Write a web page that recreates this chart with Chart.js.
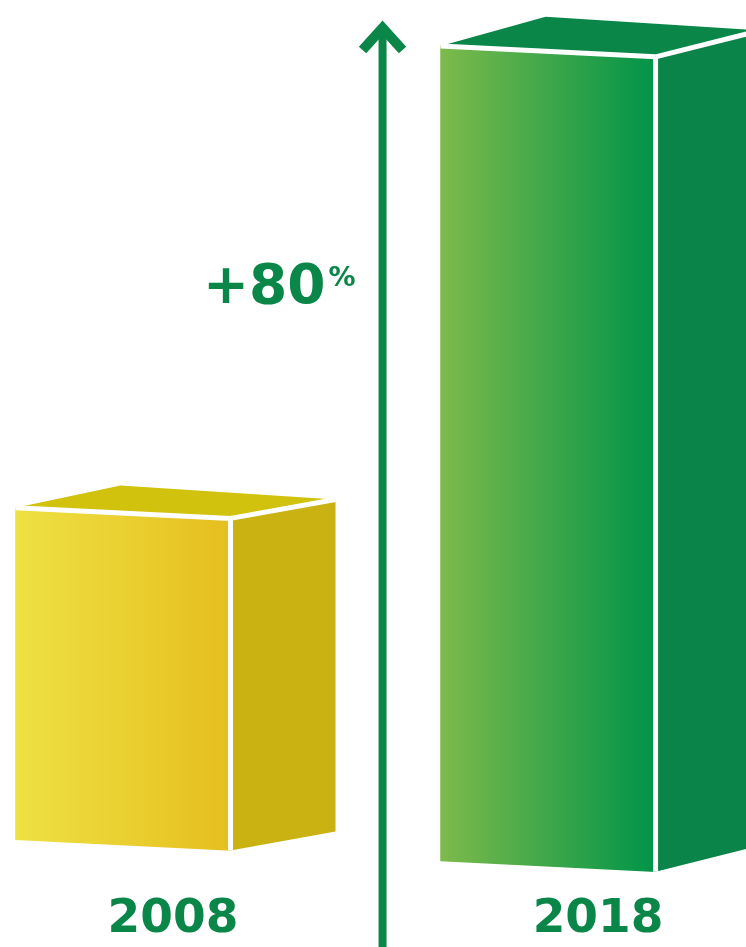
<!DOCTYPE html>
<html>
<head>
<meta charset="utf-8">
<title>2008 - 2018</title>
<script src="https://cdn.jsdelivr.net/npm/chart.js@4.4.1/dist/chart.umd.min.js"></script>
<style>
  html, body { margin: 0; padding: 0; background: #fff; }
  #wrap { width: 746px; height: 947px; }
</style>
</head>
<body>
<div id="wrap"><canvas id="myChart" width="746" height="947"></canvas></div>
<script>
// data (index, 2008 = 100)
const years = ['2008', '2018'];
const values = [100, 180];

// axis range (the picture uses a cut value axis)
const yMin = 45;
const yMax = 185;
const xMin = -0.407;
const xMax = 1.348;

// look
const green = '#0a8649';
const frontColors = [['#eee143', '#e6be1f'], ['#7dba4b', '#009449']];
const topColors = ['#d1c20e', '#0a8649'];
const sideColors = ['#c9b212', '#0a8449'];
const depthTilt = [0.18, 0.25];
const shift = 50;     // front face sits left of the label centre
const skew = 0.05;    // the floor leans down to the right
const depth = 105;

function frontX0(chart) {
  return chart.scales.x.getPixelForValue(0) - shift;
}

function toScreen(chart, x, y) {
  const sx = x - shift;
  return [sx, y + skew * (sx - frontX0(chart))];
}

function poly(ctx, pts, fill) {
  ctx.beginPath();
  ctx.moveTo(pts[0][0], pts[0][1]);
  for (let i = 1; i < pts.length; i++) ctx.lineTo(pts[i][0], pts[i][1]);
  ctx.closePath();
  ctx.fillStyle = fill;
  ctx.fill();
}

function edge(ctx, a, b) {
  ctx.beginPath();
  ctx.moveTo(a[0], a[1]);
  ctx.lineTo(b[0], b[1]);
  ctx.stroke();
}

const boxPlugin = {
  id: 'box3d',
  beforeDatasetsDraw(chart) {
    const ctx = chart.ctx;
    ctx.save();
    ctx.transform(1, skew, 0, 1, -shift, -skew * (shift + frontX0(chart)));
  },
  afterDatasetsDraw(chart) {
    const ctx = chart.ctx;
    ctx.restore();

    const bars = chart.getDatasetMeta(0).data;
    ctx.save();
    ctx.strokeStyle = '#ffffff';
    ctx.lineWidth = 5;
    ctx.lineCap = 'butt';
    bars.forEach((bar, i) => {
      const p = bar.getProps(['x', 'y', 'base', 'width'], true);
      const l = p.x - p.width / 2, r = p.x + p.width / 2;
      const flt = toScreen(chart, l, p.y);
      const frt = toScreen(chart, r, p.y);
      const frb = toScreen(chart, r, p.base);
      const dyR = -depthTilt[i] * depth;
      const dyL = -(depthTilt[i] + 0.03) * depth;
      const brt = [frt[0] + depth, frt[1] + dyR];
      const blt = [flt[0] + depth, flt[1] + dyL];
      const brb = [frb[0] + depth, frb[1] + dyR];
      poly(ctx, [frt, brt, brb, frb], sideColors[i]);
      poly(ctx, [flt, frt, brt, blt], topColors[i]);
      // white seams between the faces
      edge(ctx, flt, frt);
      edge(ctx, frt, frb);
      edge(ctx, frt, brt);
    });
    ctx.restore();

    // arrow
    const ax = chart.scales.x.getPixelForValue(0.5) - 3;
    ctx.save();
    ctx.fillStyle = green;
    ctx.fillRect(ax - 4, 35, 8, chart.height - 35);
    ctx.strokeStyle = green;
    ctx.lineWidth = 10;
    ctx.lineJoin = 'miter';
    ctx.lineCap = 'butt';
    ctx.beginPath();
    ctx.moveTo(ax - 20, 50);
    ctx.lineTo(ax, 28);
    ctx.lineTo(ax + 20, 50);
    ctx.stroke();

    const pct = Math.round((values[1] - values[0]) / values[0] * 100);
    ctx.textBaseline = 'alphabetic';
    ctx.font = 'bold 55px "DejaVu Sans"';
    ctx.textAlign = 'right';
    ctx.fillText('+' + pct, ax - 57, 303);
    ctx.font = 'bold 27px "DejaVu Sans"';
    ctx.textAlign = 'left';
    ctx.fillText('%', ax - 54, 286);
    ctx.restore();
  }
};

const ctx = document.getElementById('myChart');

new Chart(ctx, {
  type: 'bar',
  data: {
    datasets: [{
      data: years.map((y, i) => ({ x: i, y: values[i] })),
      base: yMin,
      barThickness: 215,
      borderWidth: 0,
      clip: false,
      backgroundColor: (c) => {
        const chart = c.chart;
        if (!chart.chartArea || !c.raw) return frontColors[0][0];
        const cx = chart.scales.x.getPixelForValue(c.raw.x);
        const g = chart.ctx.createLinearGradient(cx - 107, 0, cx + 107, 0);
        g.addColorStop(0, frontColors[c.dataIndex][0]);
        g.addColorStop(1, frontColors[c.dataIndex][1]);
        return g;
      }
    }]
  },
  options: {
    responsive: false,
    animation: false,
    events: [],
    layout: { padding: 0 },
    plugins: {
      legend: { display: false },
      tooltip: { enabled: false }
    },
    scales: {
      x: {
        type: 'linear',
        min: xMin,
        max: xMax,
        offset: false,
        grid: { display: false, drawTicks: false },
        border: { display: false },
        ticks: {
          stepSize: 1,
          includeBounds: false,
          autoSkip: false,
          maxRotation: 0,
          padding: 47,
          color: green,
          font: { family: 'DejaVu Sans', weight: 'bold', size: 47 },
          callback: (v) => years[v] ?? ''
        },
        afterFit: (s) => { s.height = 102; }
      },
      y: {
        display: false,
        beginAtZero: false,
        min: yMin,
        max: yMax
      }
    }
  },
  plugins: [boxPlugin]
});
</script>
</body>
</html>
